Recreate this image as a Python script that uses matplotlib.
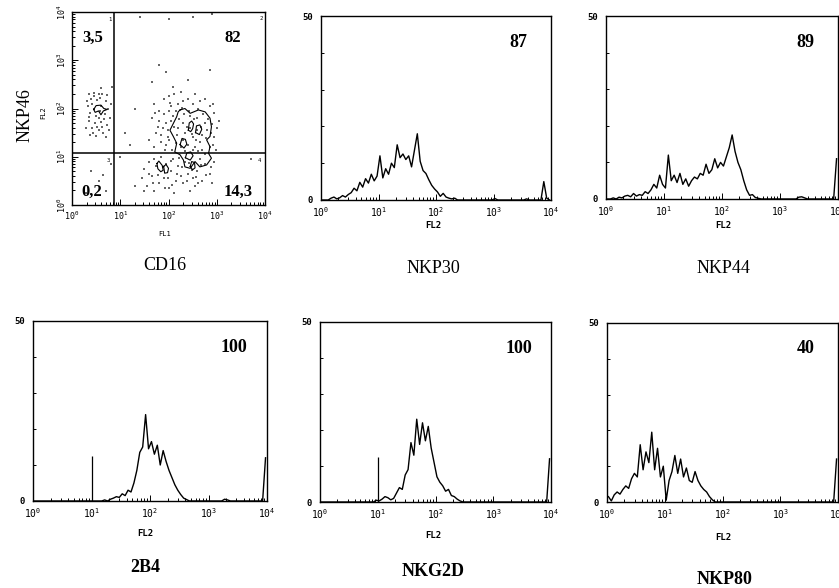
import numpy as np
import matplotlib
matplotlib.use("Agg")
import matplotlib.pyplot as plt

W, H = 839, 588

# ───────────── histogram data: FL2, 4 decades, 80 channels ─────────────
N_BINS = 80
edges_dec = np.linspace(0, 4, N_BINS + 1)
centers_dec = (edges_dec[:-1] + edges_dec[1:]) / 2

nkp30 = [
    0, 0, 0, 0.5, 0.8, 0.3, 0.6, 1.2, 0.8, 1.5,
    2.0, 3.2, 2.5, 4.8, 3.5, 5.8, 4.6, 7.0, 5.2, 6.5,
    12.0, 6.0, 8.5, 7.0, 10.0, 8.8, 15.0, 11.5, 12.5, 11.0,
    12.0, 9.0, 13.5, 18.0, 10.5, 8.0, 7.2, 5.5, 4.0, 3.0,
    2.2, 1.0, 1.8, 0.8, 0.5, 0.3, 0.5, 0, 0, 0,
    0, 0, 0, 0, 0, 0, 0, 0, 0, 0,
    0.4, 0, 0, 0, 0, 0, 0, 0, 0, 0,
    0, 0.3, 0, 0, 0, 0, 0, 5.0, 0.5, 0,
]
nkp44 = [
    0, 0, 0.3, 0, 0.5, 0.3, 0.8, 1.0, 0.6, 1.5,
    0.8, 1.2, 1.0, 2.0, 1.5, 2.5, 4.0, 3.0, 6.5, 4.0,
    3.0, 12.0, 5.0, 6.5, 4.5, 7.0, 4.0, 5.5, 3.5, 5.0,
    6.0, 5.5, 7.0, 6.5, 9.5, 7.0, 8.0, 11.0, 8.5, 10.0,
    9.0, 11.5, 14.0, 17.5, 13.0, 10.0, 8.0, 5.0, 2.5, 1.0,
    1.2, 0.4, 0.2, 0, 0, 0, 0, 0, 0, 0,
    0, 0, 0, 0, 0, 0, 0.5, 0.6, 0.3, 0,
    0, 0, 0, 0, 0, 0, 0, 0, 0, 11.0,
]
b2b4 = [
    0, 0, 0, 0, 0, 0, 0, 0, 0, 0,
    0, 0, 0, 0, 0, 0, 0, 0, 0, 0,
    0, 0, 0, 0, 0.3, 0, 0.5, 0.8, 1.2, 1.0,
    2.0, 1.5, 3.0, 2.5, 5.0, 8.5, 13.5, 15.0, 24.0, 14.5,
    16.5, 13.0, 15.5, 10.0, 14.0, 11.0, 8.5, 6.5, 4.5, 3.0,
    1.8, 0.8, 0.4, 0, 0, 0, 0, 0, 0, 0,
    0, 0, 0, 0, 0, 0.5, 0.3, 0, 0, 0,
    0, 0, 0, 0, 0, 0, 0, 0, 0, 12.0,
]
nkg2d = [
    0, 0, 0, 0, 0, 0, 0, 0, 0, 0,
    0, 0, 0, 0, 0, 0, 0, 0, 0, 0.5,
    0.3, 0.8, 1.5, 1.2, 0.6, 1.0, 2.5, 4.0, 3.5, 7.5,
    9.0, 16.5, 13.0, 23.0, 16.0, 22.0, 17.0, 21.0, 15.0, 11.0,
    7.0, 5.5, 4.5, 3.0, 3.5, 1.8, 1.5, 0.8, 0.3, 0,
    0, 0, 0, 0, 0, 0, 0, 0, 0, 0,
    0, 0, 0, 0, 0, 0, 0, 0, 0, 0,
    0, 0, 0, 0, 0, 0, 0, 0, 0, 12.0,
]
nkp80 = [
    1.5, 0.3, 2.0, 2.8, 2.2, 3.5, 4.5, 3.8, 6.5, 8.0,
    7.0, 16.0, 9.0, 14.0, 11.0, 19.5, 9.0, 15.0, 7.0, 10.0,
    0.5, 6.0, 8.5, 13.0, 8.0, 12.0, 7.0, 9.5, 6.0, 5.5,
    8.5, 6.0, 4.5, 3.5, 2.8, 1.5, 0.6, 0, 0, 0,
    0, 0, 0, 0, 0, 0, 0, 0, 0, 0,
    0, 0, 0, 0, 0, 0, 0, 0, 0, 0,
    0, 0, 0, 0, 0, 0, 0, 0, 0, 0,
    0, 0, 0, 0, 0, 0, 0, 0, 0, 12.0,
]

hist_names = ["NKP30", "NKP44", "2B4", "NKG2D", "NKP80"]
hist_counts = [nkp30, nkp44, b2b4, nkg2d, nkp80]
hist_percent = ["87", "89", "100", "100", "40"]
# marker (gate) bar at 10^1 on 2B4 / NKG2D
gate_pos = {"2B4": 10.0, "NKG2D": 10.0}
gate_height = 12.5

# ───────────── dot plot CD16 (FL1) x NKP46 (FL2), log decades ─────────────
quad_x_dec = 0.87
quad_y_dec = 1.08
quad_percent = ["3,5", "82", "0,2", "14,3"]

dots_upper_left = [
    (0.35, 2.3), (0.45, 2.32), (0.55, 2.3), (0.62, 2.31), (0.40, 2.2), (0.52, 2.18),
    (0.70, 2.15), (0.33, 2.05), (0.45, 2.0), (0.6, 2.05), (0.75, 2.0), (0.38, 1.9),
    (0.5, 1.85), (0.68, 1.88), (0.78, 1.8), (0.35, 1.75), (0.48, 1.7), (0.6, 1.72),
    (0.72, 1.65), (0.42, 1.6), (0.55, 1.55), (0.65, 1.5), (0.38, 1.45), (0.5, 1.42),
    (0.7, 1.4), (0.58, 1.95), (0.3, 1.6), (0.8, 2.1), (0.82, 2.45), (0.6, 2.42),
    (0.32, 2.15), (0.42, 2.1), (0.58, 2.22), (0.72, 2.28), (0.36, 1.82), (0.55, 1.8),
    (0.66, 1.78), (0.44, 1.5), (0.62, 1.62), (0.76, 1.55), (0.46, 2.25), (0.52, 1.62),
]
dots_lower_left = [
    (0.4, 0.7), (0.55, 0.5), (0.7, 0.3), (0.8, 0.85), (0.3, 0.25), (0.65, 0.62),
]
dots_upper_right = [
    (1.65, 1.8), (1.7, 2.1), (1.75, 1.5), (1.8, 1.95), (1.85, 1.3), (1.9, 2.2),
    (1.95, 1.7), (1.98, 1.4), (1.92, 1.15), (1.88, 1.6), (2.0, 2.25), (2.05, 2.05),
    (2.1, 1.85), (2.12, 2.3), (2.2, 2.1), (2.25, 2.35), (2.3, 2.15), (2.4, 2.2),
    (2.5, 2.1), (2.55, 2.3), (2.65, 2.15), (2.75, 2.2), (2.85, 2.05), (2.95, 1.9),
    (3.0, 1.6), (2.95, 1.4), (3.05, 1.75), (2.92, 1.25), (2.98, 1.15), (1.6, 1.35),
    (1.7, 1.2), (1.8, 1.75), (1.95, 1.25), (2.0, 1.95), (2.3, 1.7), (2.35, 1.5),
    (2.45, 1.6), (2.5, 1.4), (2.6, 1.55), (2.7, 1.45), (2.4, 1.25), (2.55, 1.2),
    (2.65, 1.3), (2.75, 1.7), (2.8, 1.55), (2.3, 1.35), (2.2, 1.6), (2.6, 1.8),
    (2.45, 1.85), (2.7, 1.15), (2.25, 1.2),
    (1.98, 1.55), (2.02, 1.35), (2.05, 1.75), (2.08, 1.15), (2.12, 1.62), (2.15, 1.95),
    (2.18, 1.45), (2.22, 1.78), (2.28, 2.02), (2.33, 1.88), (2.38, 1.62), (2.42, 1.95),
    (2.48, 1.48), (2.52, 1.78), (2.58, 1.35), (2.62, 1.98), (2.68, 1.62), (2.72, 1.88),
    (2.78, 1.38), (2.82, 1.78), (2.88, 1.5), (2.9, 1.68), (2.93, 2.1), (2.03, 2.12),
    (1.85, 1.45), (1.78, 1.62), (1.72, 1.9), (1.9, 1.88), (2.15, 1.28), (2.5, 1.15),
    (2.85, 1.2), (2.62, 1.12), (2.35, 1.12), (2.75, 1.05),
    (1.4, 3.9), (2.0, 3.85), (2.5, 3.9), (2.9, 3.95), (1.8, 2.9), (1.65, 2.55),
    (2.4, 2.6), (1.95, 2.75), (2.1, 2.45), (2.85, 2.8), (1.3, 2.0), (1.1, 1.5),
    (1.2, 1.25),
]
dots_lower_right = [
    (1.45, 0.55), (1.5, 0.75), (1.55, 0.4), (1.6, 0.9), (1.65, 0.6), (1.7, 0.3),
    (1.75, 0.8), (1.8, 0.45), (1.85, 1.0), (1.9, 0.55), (1.95, 0.85), (2.0, 0.35),
    (2.05, 0.7), (2.1, 0.95), (2.15, 0.5), (2.2, 0.8), (2.25, 0.6), (2.3, 0.45),
    (2.35, 0.9), (2.4, 0.65), (2.5, 0.55), (2.55, 0.4), (2.6, 0.7), (2.7, 0.5),
    (2.75, 0.85), (2.85, 0.65), (2.9, 0.45), (2.95, 0.9), (1.5, 0.3), (1.7, 0.95),
    (2.45, 0.3), (2.65, 0.95), (3.7, 0.95), (1.3, 0.4), (1.0, 1.0),
    (1.6, 0.65), (1.68, 0.45), (1.78, 0.62), (1.88, 0.78), (1.98, 0.55), (2.08, 0.42),
    (2.18, 0.65), (2.28, 0.78), (2.38, 0.5), (2.48, 0.72), (2.58, 0.58), (2.68, 0.82),
    (2.78, 0.62), (2.88, 0.78), (2.05, 0.92), (2.22, 0.98), (2.62, 0.45), (1.92, 0.35),
    (2.12, 0.25), (2.42, 0.88),
]

contour_main = [
    (2.24, 1.97), (2.34, 2.0), (2.45, 1.90), (2.62, 1.97), (2.76, 1.93), (2.86, 1.80),
    (2.89, 1.62), (2.86, 1.42), (2.79, 1.35), (2.86, 1.21), (2.83, 1.07), (2.89, 0.97),
    (2.79, 0.83), (2.65, 0.79), (2.55, 0.90), (2.45, 0.76), (2.34, 0.79), (2.31, 0.93),
    (2.24, 1.04), (2.13, 1.10), (2.17, 1.28), (2.10, 1.42), (2.03, 1.55), (2.10, 1.69),
    (2.17, 1.83), (2.20, 1.93), (2.24, 1.97),
]
contour_a = [(2.41, 1.55), (2.43, 1.70), (2.48, 1.74), (2.52, 1.68), (2.50, 1.58), (2.46, 1.52), (2.41, 1.55)]
contour_c = [(2.24, 1.25), (2.28, 1.38), (2.35, 1.36), (2.38, 1.26), (2.32, 1.18), (2.24, 1.25)]
contour_d = [(2.56, 1.50), (2.58, 1.64), (2.65, 1.66), (2.69, 1.57), (2.64, 1.46), (2.56, 1.50)]
contour_e = [(2.35, 0.98), (2.38, 1.08), (2.46, 1.10), (2.51, 1.02), (2.45, 0.93), (2.35, 0.98)]
contour_f = [(2.45, 0.80), (2.48, 0.90), (2.54, 0.88), (2.55, 0.77), (2.50, 0.73), (2.45, 0.80)]
contour_g = [(1.76, 0.86), (1.80, 0.91), (1.87, 0.82), (1.89, 0.72), (1.84, 0.69), (1.78, 0.75), (1.76, 0.86)]
contour_h = [(1.90, 0.80), (1.95, 0.84), (2.00, 0.76), (1.98, 0.67), (1.92, 0.66), (1.90, 0.80)]
contour_left = [
    (0.45, 1.98), (0.50, 2.06), (0.60, 2.07), (0.66, 2.00), (0.73, 1.98), (0.65, 1.95),
    (0.60, 1.87), (0.55, 1.95), (0.48, 1.92), (0.45, 1.98),
]
contours = [contour_main, contour_a, contour_c, contour_d, contour_e,
            contour_f, contour_g, contour_h, contour_left]

# ───────────── layout (pixels in the 839x588 image) ─────────────
def rect(x0, y0, x1, y1):
    return [x0 / W, 1 - y1 / H, (x1 - x0) / W, (y1 - y0) / H]


dot_rect = rect(72, 12, 265, 205)
hist_rects = [
    rect(321, 16, 551, 200),
    rect(606, 16, 838, 199),
    rect(33, 321, 267, 501),
    rect(320, 322, 551, 502),
    rect(607, 323, 838, 502),
]
fl2_pos = [(433, 226), (723, 226), (145, 533), (433, 535), (723, 537)]
name_pos = [(433, 268), (723, 268), (145, 567), (433, 572), (725, 580)]
name_bold = [False, False, True, True, True]

MONO = "DejaVu Sans Mono"
SERIF = "Liberation Serif"
plt.rcParams["mathtext.fontset"] = "dejavusans"


def fig_text(fig, x, y, s, **kw):
    fig.text(x / W, 1 - y / H, s, ha="center", va="center", **kw)


def log_ticks(axis):
    axis.set_major_locator(matplotlib.ticker.FixedLocator([1, 10, 100, 1000, 10000]))
    axis.set_minor_locator(matplotlib.ticker.LogLocator(base=10, subs=np.arange(2, 10)))
    axis.set_minor_formatter(matplotlib.ticker.NullFormatter())
    labels = [r"$\mathtt{10^{%d}}$" % k for k in range(5)]
    axis.set_ticklabels(labels)


fig = plt.figure(figsize=(W / 100, H / 100), dpi=100)

# ── dot plot ──
ax = fig.add_axes(dot_rect)
ax.set_xscale("log")
ax.set_yscale("log")
ax.set_xlim(1, 1e4)
ax.set_ylim(1, 1e4)
for pop in [dots_upper_left, dots_lower_left, dots_upper_right, dots_lower_right]:
    d = np.array(pop)
    ax.scatter(10 ** d[:, 0], 10 ** d[:, 1], s=1.3, marker="s", color="0.4", linewidths=0)
for c in contours:
    d = np.array(c)
    ax.plot(10 ** d[:, 0], 10 ** d[:, 1], color="black", lw=0.8)
ax.axvline(10 ** quad_x_dec, color="black", lw=1.1)
ax.axhline(10 ** quad_y_dec, color="black", lw=1.1)
log_ticks(ax.xaxis)
log_ticks(ax.yaxis)
ax.tick_params(which="both", direction="in", labelsize=6, pad=3, width=0.7)
ax.tick_params(which="major", length=4)
ax.tick_params(which="minor", length=2)
for lab in ax.get_yticklabels():
    lab.set_rotation(90)
    lab.set_va("center")
for s in ax.spines.values():
    s.set_linewidth(1.0)
qpos = [(0.109, 0.865), (0.834, 0.865), (0.104, 0.067), (0.86, 0.067)]
for (x, y), t in zip(qpos, quad_percent):
    ax.text(x, y, t, transform=ax.transAxes, ha="center", va="center",
            family=SERIF, fontweight="bold", fontsize=12)
qnum = [(0.197, 0.962, "1"), (0.979, 0.966, "2"), (0.187, 0.233, "3"), (0.969, 0.233, "4")]
for x, y, t in qnum:
    ax.text(x, y, t, transform=ax.transAxes, ha="center", va="center", fontsize=4, family=MONO)
fig_text(fig, 165, 234, "FL1", family=MONO, fontsize=5)
fig_text(fig, 43, 113, "FL2", family=MONO, fontsize=5, rotation=90)
fig_text(fig, 165, 265, "CD16", family=SERIF, fontsize=13)
fig_text(fig, 25, 115, "NKP46", family=SERIF, fontsize=13, rotation=90)

# ── histograms ──
for name, counts, pct, r, fp, npos, bold in zip(
        hist_names, hist_counts, hist_percent, hist_rects, fl2_pos, name_pos, name_bold):
    ax = fig.add_axes(r)
    ax.set_xscale("log")
    ax.plot(10 ** centers_dec, counts, color="black", lw=1.0)
    if name in gate_pos:
        ax.vlines(gate_pos[name], 0, gate_height, color="black", lw=0.9)
    ax.set_xlim(1, 1e4)
    ax.set_ylim(0, 50)
    log_ticks(ax.xaxis)
    ax.set_yticks([0, 10, 20, 30, 40, 50])
    ax.set_yticklabels(["0", "", "", "", "", "50"], family=MONO, fontweight="bold")
    ax.tick_params(which="both", direction="in", labelsize=6.5, pad=6, width=0.7)
    ax.tick_params(axis="x", which="major", length=4, labelsize=7, pad=4)
    ax.tick_params(which="minor", length=2.5)
    ax.tick_params(axis="y", length=2.5)
    for s in ax.spines.values():
        s.set_linewidth(1.0)
    ax.text(0.86, 0.855, pct, transform=ax.transAxes, ha="center", va="center",
            family=SERIF, fontweight="bold", fontsize=13)
    fig_text(fig, fp[0], fp[1], "FL2", family=MONO, fontsize=6.5, fontweight="bold")
    fig_text(fig, npos[0], npos[1], name, family=SERIF, fontsize=13,
             fontweight="bold" if bold else "normal")

fig.savefig("out.png", dpi=100)
